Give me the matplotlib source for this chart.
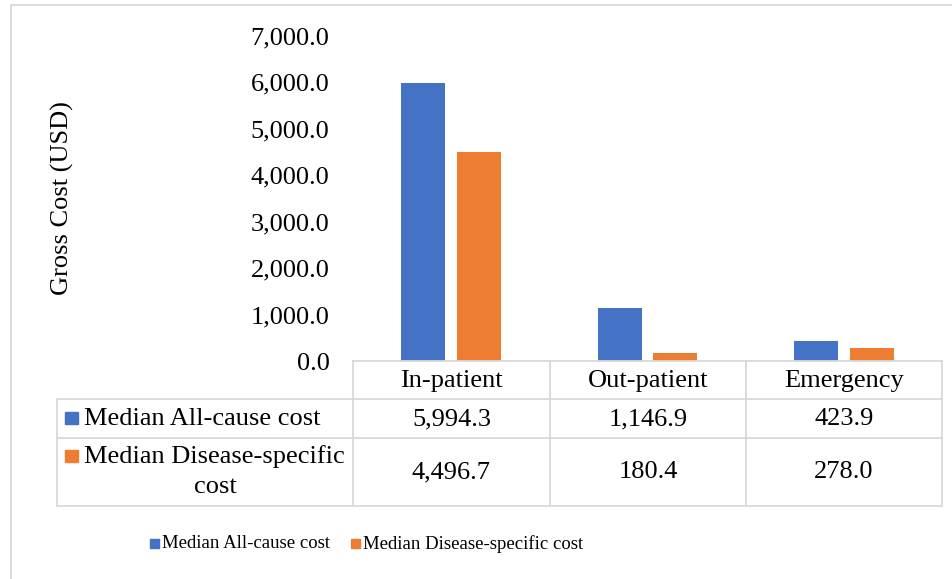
import matplotlib.pyplot as plt
from matplotlib.lines import Line2D
from matplotlib.patches import Rectangle

categories = ['In-patient', 'Out-patient', 'Emergency']
all_cause = [5994.3, 1146.9, 423.9]
disease_specific = [4496.7, 180.4, 278.0]
series_names = ['Median All-cause cost', 'Median Disease-specific cost']
colors = ['#4472C4', '#ED7D31']
yticks = [0, 1000, 2000, 3000, 4000, 5000, 6000, 7000]

W, H = 953, 579
FONT = 'Liberation Serif'
GRID = '#d9d9d9'
FS = 19


def fx(x):
    return x / W


def fy(y):
    return 1 - y / H


def hline(fig, x0, x1, y):
    fig.add_artist(Line2D([fx(x0), fx(x1)], [fy(y), fy(y)], color=GRID, lw=1.3))


def vline(fig, x, y0, y1):
    fig.add_artist(Line2D([fx(x), fx(x)], [fy(y0), fy(y1)], color=GRID, lw=1.3))


plt.rcParams['font.family'] = [FONT, 'DejaVu Serif']

fig = plt.figure(figsize=(W / 100, H / 100), dpi=100)

# outer chart border (only top/left visible in the original)
hline(fig, 11, W, 5)
vline(fig, 11, 5, H)

# plot area
ax_left, ax_right, ax_top, ax_bottom = 353, 942, 36, 361
ax = fig.add_axes([fx(ax_left), fy(ax_bottom), fx(ax_right - ax_left), (ax_bottom - ax_top) / H])

x = range(len(categories))
width = 0.224
off = 0.141
ax.bar([i - off for i in x], all_cause, width, color=colors[0])
ax.bar([i + off for i in x], disease_specific, width, color=colors[1])

ax.set_xlim(-0.5, 2.5)
ax.set_ylim(0, 7000)
ax.set_yticks(yticks)
ax.set_yticklabels([f'{v:,.1f}' for v in yticks], fontsize=FS)
ax.tick_params(axis='y', length=0, pad=17)
ax.set_xticks([])
for s in ax.spines.values():
    s.set_visible(False)

fig.text(fx(62), fy(198), 'Gross Cost (USD)', rotation=90, ha='center', va='center', fontsize=FS)

# data table
cols = [353, 550, 746, 942]
rows = [361, 399, 438, 506]
tab_left = 57
hline(fig, cols[0], cols[-1], rows[0])
for r in rows[1:]:
    hline(fig, tab_left, cols[-1], r)
for c in cols:
    vline(fig, c, rows[0], rows[-1])
vline(fig, tab_left, rows[1], rows[-1])

for j, cat in enumerate(categories):
    cx = (cols[j] + cols[j + 1]) / 2
    fig.text(fx(cx), fy(381), cat, ha='center', va='center', fontsize=FS)
    fig.text(fx(cx), fy(419), f'{all_cause[j]:,.1f}', ha='center', va='center', fontsize=FS)
    fig.text(fx(cx), fy(472), f'{disease_specific[j]:,.1f}', ha='center', va='center', fontsize=FS)

# row labels with colour keys
fig.add_artist(Rectangle((fx(65), fy(424)), fx(13), 12 / H, color=colors[0]))
fig.text(fx(84), fy(419), series_names[0], ha='left', va='center', fontsize=FS)
fig.add_artist(Rectangle((fx(65), fy(462)), fx(13), 12 / H, color=colors[1]))
fig.text(fx(84), fy(457), 'Median Disease-specific', ha='left', va='center', fontsize=FS)
fig.text(fx(215), fy(487), 'cost', ha='center', va='center', fontsize=FS)

# legend at the bottom
fig.add_artist(Rectangle((fx(150), fy(548)), fx(9), 9 / H, color=colors[0]))
fig.text(fx(162), fy(544), series_names[0], ha='left', va='center', fontsize=13.5)
fig.add_artist(Rectangle((fx(351), fy(548)), fx(9), 9 / H, color=colors[1]))
fig.text(fx(363), fy(544), series_names[1], ha='left', va='center', fontsize=13.5)

fig.savefig('out.png', dpi=100)
